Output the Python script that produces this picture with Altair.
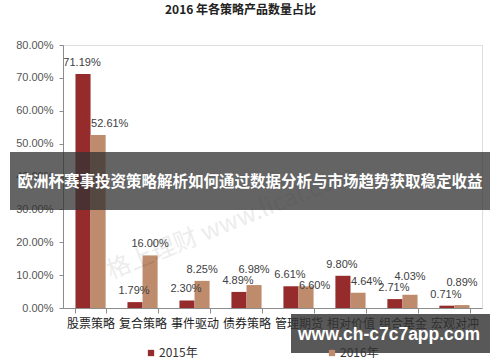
import altair as alt
import pandas as pd

title_text = "2016 年各策略产品数量占比"
categories = ["股票策略", "复合策略", "事件驱动", "债券策略", "管理期货", "相对价值", "组合基金", "宏观对冲"]
years = ["2015年", "2016年"]
v2015 = [71.19, 1.79, 2.30, 4.89, 6.61, 9.80, 2.71, 0.71]
v2016 = [52.61, 16.00, 8.25, 6.98, 6.60, 4.64, 4.03, 0.89]
colors = ["#962B2C", "#BE8C6C"]
banner_text = "欧洲杯赛事投资策略解析如何通过数据分析与市场趋势获取稳定收益"
site_text = "www.ch-c7c7app.com"
watermark_text = "格上理财  www.licai.com"

rows = []
for c, a, b in zip(categories, v2015, v2016):
    rows.append({"cat": c, "year": years[0], "v": a / 100})
    rows.append({"cat": c, "year": years[1], "v": b / 100})
df = pd.DataFrame(rows)
wide = pd.DataFrame({"cat": categories,
                     "v15": [a / 100 for a in v2015],
                     "v16": [b / 100 for b in v2016]})

FONT = "Noto Sans CJK SC"
GAP = 0.034  # label collision gap in value units (one label height)

x_enc = alt.X("cat:N", sort=categories, title=None,
              scale=alt.Scale(paddingInner=0.42, paddingOuter=0.24),
              axis=alt.Axis(labelAngle=0, labelFontSize=12, labelColor="#222222",
                            labelPadding=5, tickBand="extent", tickSize=5, labelOverlap=False,
                            domainColor="#8c8c8c", tickColor="#8c8c8c", labelFont=FONT))
y_scale = alt.Scale(domain=[0, 0.8], nice=False)
y_axis = alt.Axis(format=".2%", values=[0, 0.1, 0.2, 0.3, 0.4, 0.5, 0.6, 0.7, 0.8],
                  grid=False, tickSize=4, labelFontSize=11, labelColor="#555555",
                  domainColor="#8c8c8c", tickColor="#8c8c8c", labelPadding=6,
                  labelOverlap=False, labelFont="Liberation Sans")
xo = alt.XOffset("year:N", sort=years, scale=alt.Scale(paddingInner=0))

bars = alt.Chart(df).mark_bar().encode(
    x=x_enc, y=alt.Y("v:Q", title=None, scale=y_scale, axis=y_axis), xOffset=xo,
    color=alt.Color("year:N", sort=years, scale=alt.Scale(domain=years, range=colors),
                    legend=alt.Legend(title=None, orient="none", direction="horizontal",
                                      legendX=82, legendY=302, symbolType="square",
                                      symbolSize=40, labelFontSize=12, labelOffset=2,
                                      columnPadding=128, labelColor="#333333",
                                      labelFont=FONT, symbolStrokeWidth=0)),
)

txt = dict(fontSize=11, color="#404040", font="Liberation Sans", dy=-11)

lab15 = alt.Chart(wide).transform_calculate(year=f"'{years[0]}'", ly="datum.v15").mark_text(
    dx=-1, **txt).encode(
    x=x_enc, y=alt.Y("ly:Q", title=None, scale=y_scale, axis=y_axis), xOffset=xo,
    text=alt.Text("v15:Q", format=".2%"),
)
lab16c = alt.Chart(wide).transform_filter("datum.v16 >= datum.v15").transform_calculate(
    year=f"'{years[1]}'",
    ly=f"datum.v16 - datum.v15 < {GAP} ? datum.v15 + {GAP} : datum.v16").mark_text(
    **txt).encode(
    x=x_enc, y=alt.Y("ly:Q", title=None, scale=y_scale, axis=y_axis), xOffset=xo,
    text=alt.Text("v16:Q", format=".2%"),
)
lab16l = alt.Chart(wide).transform_filter("datum.v16 < datum.v15").transform_calculate(
    year=f"'{years[1]}'",
    ly=f"datum.v15 - datum.v16 < {GAP} ? datum.v15 - {GAP} : datum.v16").mark_text(
    align="left", dx=-7, **txt).encode(
    x=x_enc, y=alt.Y("ly:Q", title=None, scale=y_scale, axis=y_axis), xOffset=xo,
    text=alt.Text("v16:Q", format=".2%"),
)

wm = alt.Chart(pd.DataFrame({"t": [watermark_text]})).mark_text(
    fontSize=24, color="#000000", opacity=0.07, angle=338, font=FONT
).encode(x=alt.value(168), y=alt.value(178), text="t:N")

banner = alt.Chart(pd.DataFrame({"t": [banner_text]})).mark_rect(
    color="#333333", opacity=0.76
).encode(x=alt.value(-53), x2=alt.value(427), y=alt.value(107), y2=alt.value(165))
banner_t = alt.Chart(pd.DataFrame({"t": [banner_text]})).mark_text(
    color="white", fontSize=15.5, fontWeight="bold", font=FONT
).encode(x=alt.value(187), y=alt.value(137), text="t:N")

site = alt.Chart(pd.DataFrame({"t": [site_text]})).mark_rect(
    color="#333333", opacity=0.82
).encode(x=alt.value(228), x2=alt.value(427), y=alt.value(269), y2=alt.value(308))
site_t = alt.Chart(pd.DataFrame({"t": [site_text]})).mark_text(
    color="white", fontSize=17.5, fontWeight="bold", font="Liberation Sans"
).encode(x=alt.value(326), y=alt.value(290), text="t:N")

chart = alt.layer(bars, lab15, lab16c, lab16l, wm, banner, banner_t, site, site_t).properties(
    width=419, height=263,
    title=alt.TitleParams(title_text, fontSize=12, fontWeight="bold", font=FONT,
                          color="#222222", anchor="middle", dx=-32, offset=22),
    autosize=alt.AutoSizeParams(type="none"),
    padding={"left": 63, "top": 45, "right": 18, "bottom": 54},
).configure_view(stroke=None).configure(background="white")

chart.save("out.html", embed_options={"renderer": "svg", "actions": False})
